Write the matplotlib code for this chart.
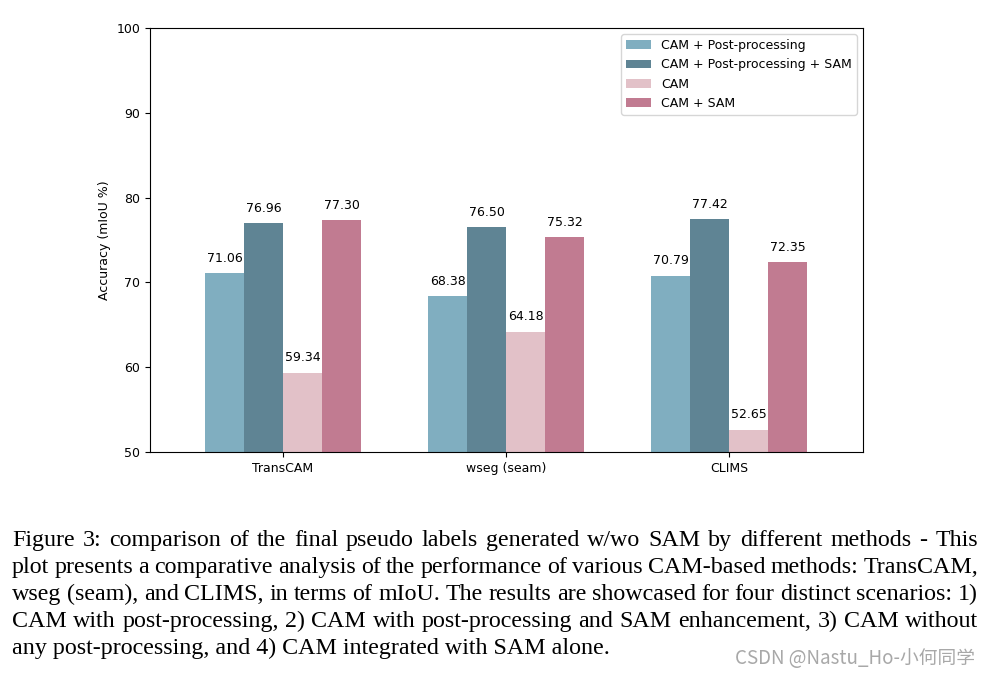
"""Pseudo-label mIoU of CAM variants with and without SAM, recreated from a paper figure."""

import matplotlib.pyplot as plt
import numpy as np

methods = ["TransCAM", "wseg (seam)", "CLIMS"]
series_names = [
    "CAM + Post-processing",
    "CAM + Post-processing + SAM",
    "CAM",
    "CAM + SAM",
]
cam_post = [71.06, 68.38, 70.79]
cam_post_sam = [76.96, 76.50, 77.42]
cam_only = [59.34, 64.18, 52.65]
cam_sam = [77.30, 75.32, 72.35]

colors = ["#80aec0", "#5f8494", "#e2c1c8", "#c17b91"]

caption_lines = [
    "Figure 3: comparison of the final pseudo labels generated w/wo SAM by different methods - This",
    "plot presents a comparative analysis of the performance of various CAM-based methods: TransCAM,",
    "wseg (seam), and CLIMS, in terms of mIoU. The results are showcased for four distinct scenarios: 1)",
    "CAM with post-processing, 2) CAM with post-processing and SAM enhancement, 3) CAM without",
    "any post-processing, and 4) CAM integrated with SAM alone.",
]
watermark = "CSDN @Nastu_Ho-小何同学"


def draw_justified(fig, words, left_px, right_px, y_frac, **kw):
    """Lay out words one by one so the line fills left_px..right_px."""
    renderer = fig.canvas.get_renderer()
    texts = [fig.text(0, y_frac, w, ha="left", va="baseline", **kw) for w in words]
    widths = [t.get_window_extent(renderer).width for t in texts]
    gap = (right_px - left_px - sum(widths)) / max(len(words) - 1, 1)
    x = left_px
    for t, w in zip(texts, widths):
        t.set_x(x / fig.bbox.width)
        x += w + gap


def main() -> None:
    fig = plt.figure(figsize=(9.89, 6.76), dpi=100)
    ax = fig.add_axes([0.1517, 0.3314, 0.7209, 0.6272])

    x = np.arange(len(methods))
    width = 0.175
    all_series = [cam_post, cam_post_sam, cam_only, cam_sam]
    for i, (vals, name, c) in enumerate(zip(all_series, series_names, colors)):
        bars = ax.bar(x + (i - 1.5) * width, vals, width, color=c, label=name)
        for b, v in zip(bars, vals):
            ax.annotate(f"{v:.2f}", (b.get_x() + b.get_width() / 2, v),
                        xytext=(0, 6), textcoords="offset points",
                        ha="center", va="bottom", fontsize=9)

    ax.set_ylim(50, 100)
    ax.set_xlim(-0.596, 2.60)
    ax.set_xticks(x)
    ax.set_xticklabels(methods, fontsize=9)
    ax.tick_params(axis="y", labelsize=9)
    ax.set_ylabel("Accuracy (mIoU %)", fontsize=9)
    ax.legend(loc="upper right", fontsize=9)

    # caption in a Times-like face; all lines but the last are justified
    cap_kw = dict(family="Liberation Serif", fontsize=17.3)
    y0 = 546
    for k, line in enumerate(caption_lines):
        y_frac = 1 - (y0 + 27 * k) / 676
        if k < len(caption_lines) - 1:
            draw_justified(fig, line.split(" "), 12, 978, y_frac, **cap_kw)
        else:
            fig.text(12 / 989, y_frac, line, ha="left", va="baseline", **cap_kw)
    fig.text(975 / 989, 1 - 658 / 676, watermark,
             family=["Noto Sans CJK SC", "DejaVu Sans"], fontsize=13.5,
             color="#a8a8a8", ha="right", va="center")

    fig.savefig("out.png", dpi=100)
    plt.close(fig)


if __name__ == "__main__":
    main()
